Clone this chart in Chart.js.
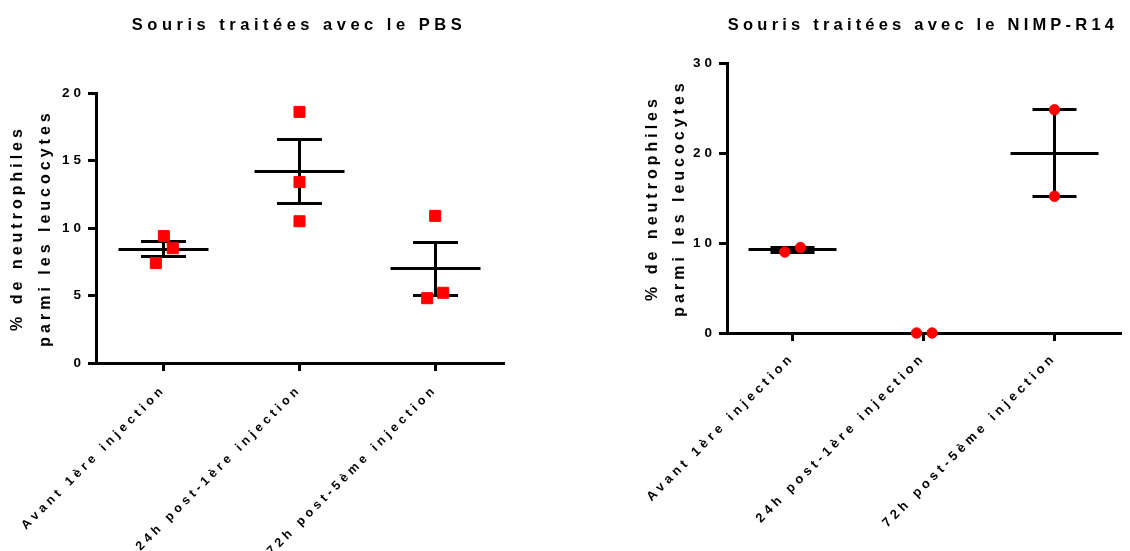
<!DOCTYPE html>
<html><head><meta charset="utf-8">
<script src="https://cdn.jsdelivr.net/npm/chart.js@4/dist/chart.umd.min.js"></script>
<style>
html,body{margin:0;padding:0;background:#fff;width:1130px;height:551px;overflow:hidden}
.box{position:absolute;top:0;height:551px;width:565px}
#b1{left:0} #b2{left:565px}
</style></head><body>
<div class="box" id="b1"><canvas id="c1" width="565" height="551"></canvas></div>
<div class="box" id="b2"><canvas id="c2" width="565" height="551"></canvas></div>
<script>
// ---- data ----
const categories = ['Avant 1ère injection', '24h post-1ère injection', '72h post-5ème injection'];
const pbsTitle = 'Souris traitées avec le PBS';
const nimpTitle = 'Souris traitées avec le NIMP-R14';
const yAxisTitle = ['% de neutrophiles', 'parmi les leucocytes'];
const pbsAvant = [9.4, 8.5, 7.4];
const pbs24h = [18.6, 13.4, 10.5];
const pbs72h = [10.9, 4.8, 5.2];
const nimpAvant = [9.0, 9.5];
const nimp24h = [0, 0];
const nimp72h = [24.8, 15.2];
const pbsTicks = [0, 5, 10, 15, 20];
const nimpTicks = [0, 10, 20, 30];

// ---- style (horizontal scatter of points, in category units) ----
const pbsJitter = [[0, 0.066, -0.059], [0, 0, 0], [0, -0.059, 0.059]];
const nimpJitter = [[-0.059, 0.061], [-0.053, 0.066], [0, 0]];

const FONT = "'Liberation Sans', Arial, sans-serif";

const spacingPlugin = {
  id: 'spacing',
  beforeUpdate(c) { c.ctx.letterSpacing = '4px'; },
  beforeLayout(c) { c.ctx.letterSpacing = '4px'; },
  beforeDraw(c) { c.ctx.letterSpacing = '4px'; }
};

const alignPx = v => Math.round(v - 0.5) + 0.5;

const semPlugin = {
  id: 'semBars',
  beforeDatasetsDraw(chart, args, opts) {
    const {ctx} = chart; const x = chart.scales.x, y = chart.scales.y;
    ctx.save();
    ctx.strokeStyle = '#000'; ctx.lineWidth = 3; ctx.lineCap = 'butt';
    chart.data.datasets.forEach((ds, i) => {
      const g = ds.data.map(p => p.y);
      const n = g.length;
      const mean = g.reduce((a, b) => a + b, 0) / n;
      const sd = Math.sqrt(g.reduce((a, b) => a + (b - mean) ** 2, 0) / (n - 1));
      const sem = sd / Math.sqrt(n);
      const cx = alignPx(x.getPixelForValue(i));
      const ym = alignPx(y.getPixelForValue(mean));
      const yt = alignPx(y.getPixelForValue(mean + sem));
      const yb = alignPx(y.getPixelForValue(mean - sem));
      ctx.beginPath();
      ctx.moveTo(cx - opts.meanHalf, ym); ctx.lineTo(cx + opts.meanHalf, ym);
      ctx.moveTo(cx, yt); ctx.lineTo(cx, yb);
      ctx.moveTo(cx - opts.capHalf, yt); ctx.lineTo(cx + opts.capHalf, yt);
      ctx.moveTo(cx - opts.capHalf, yb); ctx.lineTo(cx + opts.capHalf, yb);
      ctx.stroke();
    });
    ctx.restore();
  }
};

const titlePlugin = {
  id: 'topTitle',
  afterDraw(chart, args, opts) {
    const ctx = chart.ctx;
    ctx.save();
    ctx.letterSpacing = opts.spacing;
    ctx.font = 'bold ' + opts.size + 'px ' + FONT;
    ctx.fillStyle = '#000';
    ctx.textAlign = 'center';
    ctx.textBaseline = 'middle';
    ctx.fillText(opts.text, opts.x, opts.y);
    ctx.restore();
  }
};

function makeChart(id, groups, jitter, yTicks, style) {
  const datasets = groups.map((g, i) => ({
    data: g.map((v, j) => ({x: i + jitter[i][j], y: v})),
    pointStyle: style.pointStyle,
    pointRadius: style.pointRadius,
    pointHoverRadius: style.pointRadius,
    backgroundColor: '#ff0000',
    borderColor: '#ff0000',
    borderWidth: 1,
    clip: false
  }));
  const gridOpts = {display: true, drawOnChartArea: false, drawTicks: true, tickLength: 8, lineWidth: 3, color: '#000'};
  const borderOpts = {display: true, width: 3, color: '#000'};
  return new Chart(document.getElementById(id), {
    type: 'scatter',
    data: {datasets},
    plugins: [spacingPlugin, semPlugin, titlePlugin],
    options: {
      responsive: false,
      animation: false,
      events: [],
      layout: {padding: {left: 0, top: style.top, right: style.right, bottom: 0}},
      plugins: {
        legend: {display: false},
        tooltip: {enabled: false},
        semBars: {meanHalf: style.meanHalf, capHalf: style.capHalf},
        topTitle: {text: style.title, x: style.titleX, y: style.titleY, size: 16.5, spacing: style.titleSpacing}
      },
      scales: {
        x: {
          type: 'linear', min: -0.5, max: 2.5,
          afterBuildTicks: s => { s.ticks = categories.map((c, i) => ({value: i})); },
          afterFit: s => { s.height = style.xHeight; s.paddingLeft = 0; s.paddingRight = 0; },
          ticks: {autoSkip: false, minRotation: 45, maxRotation: 45, padding: style.xPad, color: '#000',
                  font: {family: FONT, size: style.xFont, weight: 'bold'},
                  callback: v => categories[v]},
          grid: gridOpts, border: borderOpts
        },
        y: {
          min: 0, max: yTicks[yTicks.length - 1],
          afterBuildTicks: s => { s.ticks = yTicks.map(v => ({value: v})); },
          afterFit: s => { s.width = style.yWidth; },
          ticks: {padding: 3, color: '#000', font: {family: FONT, size: 13.5, weight: 'bold'}},
          grid: gridOpts, border: borderOpts,
          title: {display: true, text: yAxisTitle, color: '#000',
                  font: {family: FONT, size: 16, weight: 'bold', lineHeight: 1.72},
                  padding: {top: style.yTitlePad, bottom: 0}}
        }
      }
    }
  });
}

makeChart('c1', [pbsAvant, pbs24h, pbs72h], pbsJitter, pbsTicks, {
  pointStyle: 'rect', pointRadius: 7.8, meanHalf: 45, capHalf: 22.5,
  top: 93, right: 62, xHeight: 188, yWidth: 96, yTitlePad: 4,
  xPad: 11, xFont: 12.5,
  title: pbsTitle, titleX: 299, titleY: 25.5, titleSpacing: '4.5px'
});
makeChart('c2', [nimpAvant, nimp24h, nimp72h], nimpJitter, nimpTicks, {
  pointStyle: 'circle', pointRadius: 5.2, meanHalf: 44, capHalf: 22,
  top: 63, right: 10, xHeight: 218, yWidth: 162, yTitlePad: 73.5,
  xPad: 9, xFont: 13,
  title: nimpTitle, titleX: 358, titleY: 25, titleSpacing: '4.2px'
});
</script>
</body></html>
